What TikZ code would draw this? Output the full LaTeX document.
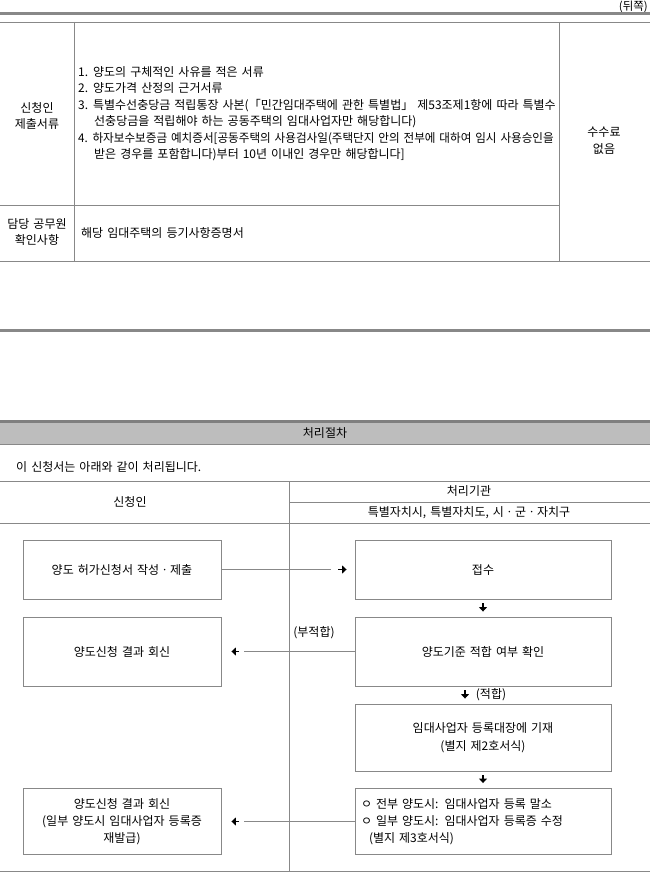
\documentclass[tikz,border=0pt]{standalone}
\usepackage{fontspec}
\setmainfont[WordSpace=1.5]{Noto Sans CJK KR}
\usetikzlibrary{arrows.meta,calc}
\definecolor{lg}{HTML}{888888}
\definecolor{band}{HTML}{BDBDBD}
\definecolor{dk}{HTML}{7F7F7F}
\begin{document}
\begin{tikzpicture}[x=1pt,y=-1pt,
  font=\fontsize{12}{16.5}\selectfont,
  gline/.style={draw=lg, line width=0.9pt},
  heavy/.style={draw=lg, line width=3pt},
  txt/.style={inner sep=0pt, align=center},
  ltxt/.style={inner sep=0pt, align=left, anchor=west},
  flowbox/.style={draw=lg, line width=0.9pt, inner sep=2pt, align=center},
  arr/.style={line width=1.7pt, black, -{Triangle[length=4.5pt,width=8pt]}}]
\useasboundingbox (0,0) rectangle (650,872);

% ---------- top section ----------
\node[txt, anchor=east, font=\fontsize{11.5}{14}\selectfont] (back) at (648,6.5) {(뒤쪽)};
\draw[heavy] (0,14) -- (650,14);
\draw[gline] (0,22) -- (650,22);
\draw[gline] (74,22) -- (74,261);
\draw[gline] (559,22) -- (559,261);
\draw[gline] (0,205) -- (559,205);
\draw[gline] (0,261) -- (650,261);

\node[txt] (docs) at (37,116) {신청인\\제출서류};
\node[ltxt] (doclist) at (78,113.5) {1. 양도의 구체적인 사유를 적은 서류\\
2. 양도가격 산정의 근거서류\\
3. 특별수선충당금 적립통장 사본(「민간임대주택에 관한 특별법」 제53조제1항에 따라 특별수\\
\hspace*{16pt}선충당금을 적립해야 하는 공동주택의 임대사업자만 해당합니다)\\
\scalebox{0.965}[1]{4. 하자보수보증금 예치증서[공동주택의 사용검사일(주택단지 안의 전부에 대하여 임시 사용승인을}\\
\hspace*{16pt}받은 경우를 포함합니다)부터 10년 이내인 경우만 해당합니다]};
\node[txt] (check) at (37,232) {담당 공무원\\확인사항};
\node[ltxt] (checktxt) at (81,233) {해당 임대주택의 등기사항증명서};
\node[txt] (fee) at (604,140.5) {수수료\\없음};

% ---------- middle ----------
\draw[heavy] (0,330) -- (650,330);

% ---------- procedure ----------
\fill[band] (0,421) rectangle (650,444);
\draw[draw=dk, line width=3pt] (0,421) -- (650,421);
\draw[gline] (0,444) -- (650,444);
\node[txt] (proc) at (325,433) {처리절차};
\node[ltxt] (intro) at (16,467) {이 신청서는 아래와 같이 처리됩니다.};

\draw[gline] (0,481) -- (650,481);
\draw[gline] (289,502) -- (650,502);
\draw[gline] (0,523) -- (650,523);
\draw[gline] (289,481) -- (289,871);
\draw[gline] (0,871) -- (650,871);
\node[txt] (hA) at (130,502) {신청인};
\node[txt] (hB) at (469,491.5) {처리기관};
\node[txt] (hC) at (469,512.5) {특별자치시, 특별자치도, 시ㆍ군ㆍ자치구};

% boxes
\node[flowbox, minimum width=198pt, minimum height=59pt] (A) at (122,569.5) {양도 허가신청서 작성ㆍ제출};
\node[flowbox, minimum width=256pt, minimum height=59pt] (B) at (483,569.5) {접수};
\node[flowbox, minimum width=256pt, minimum height=69pt] (C) at (483,651.5) {양도기준 적합 여부 확인};
\node[flowbox, minimum width=198pt, minimum height=69pt] (D) at (122,651.5) {양도신청 결과 회신};
\node[flowbox, minimum width=256pt, minimum height=67pt, font=\fontsize{12}{18}\selectfont] (E) at (483,737.5) {임대사업자 등록대장에 기재\\(별지 제2호서식)};
\node[flowbox, minimum width=256pt, minimum height=66pt, text width=244pt, inner xsep=6pt, align=left, font=\fontsize{12}{17}\selectfont] (F) at (483,821.5)
  {ㅇ 전부 양도시: 임대사업자 등록 말소\\ㅇ 일부 양도시: 임대사업자 등록증 수정\\\hspace*{8pt}(별지 제3호서식)};
\node[flowbox, minimum width=198pt, minimum height=66pt, font=\fontsize{12}{17}\selectfont] (G) at (122,821.5) {양도신청 결과 회신\\(일부 양도시 임대사업자 등록증\\재발급)};

% connectors
\coordinate (abEnd) at (331,569.5);
\draw[gline] (A.east) -- (abEnd);
\draw[arr] ($(abEnd)+(7,0)$) -- ($(B.west)+(-8,0)$);

\draw[arr] ($(B.south)+(0,4)$) -- ($(C.north)+(0,-5)$);

\coordinate (cdEnd) at (244,651.5);
\draw[gline] (C.west) -- (cdEnd);
\draw[arr] ($(cdEnd)+(-5,0)$) -- ($(D.east)+(10,0)$);
\node[txt] (unfit) at (314,633) {(부적합)};

\draw[arr] ($(C.south)+(-18,4)$) -- ($(E.north)+(-18,-5)$);
\node[txt] (fit) at (491,695) {(적합)};

\draw[arr] ($(E.south)+(0,4)$) -- ($(F.north)+(0,-5)$);

\coordinate (fgEnd) at (244,821.5);
\draw[gline] (F.west) -- (fgEnd);
\draw[arr] ($(fgEnd)+(-5,0)$) -- ($(G.east)+(10,0)$);
\end{tikzpicture}
\end{document}
